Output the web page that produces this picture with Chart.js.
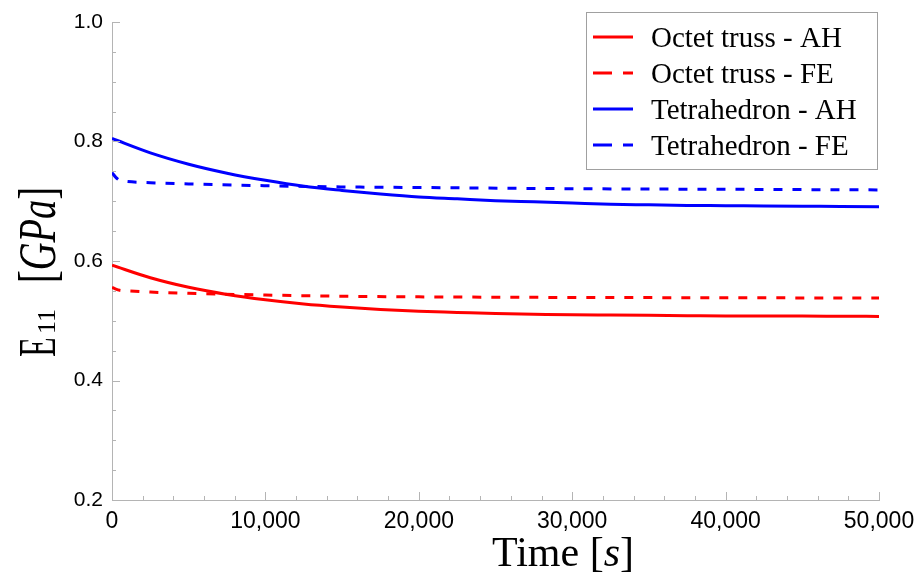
<!DOCTYPE html>
<html>
<head>
<meta charset="utf-8">
<script src="https://cdn.jsdelivr.net/npm/chart.js@4.4.0/dist/chart.umd.min.js"></script>
<style>
  body { margin: 0; background: #fff; }
  #wrap { width: 920px; height: 576px; }
</style>
</head>
<body>
<div id="wrap"><canvas id="chart-e11"></canvas></div>
<script>
/* Data */

var seriesLabels = [ "Octet truss - AH", "Octet truss - FE", "Tetrahedron - AH", "Tetrahedron - FE" ];

var timeAH = [ 0, 2500, 5000, 7500, 10000, 12500, 15000, 17500, 20000, 22500, 25000,
	27500, 30000, 32500, 35000, 37500, 40000, 42500, 45000, 47500, 50000 ];
var octetAH = [ 0.593, 0.572, 0.556, 0.544, 0.535, 0.528, 0.523, 0.519, 0.516, 0.514, 0.512,
	0.511, 0.510, 0.5095, 0.509, 0.5085, 0.508, 0.508, 0.5078, 0.5075, 0.5073 ];
var tetraAH = [ 0.805, 0.781, 0.762, 0.747, 0.735, 0.725, 0.718, 0.712, 0.707, 0.704, 0.701,
	0.699, 0.697, 0.695, 0.694, 0.693, 0.6926, 0.692, 0.6916, 0.6913, 0.691 ];

var timeFE = [ 0, 250, 500, 1000, 2500, 5000, 10000, 15000, 20000, 30000, 40000, 50000 ];
var octetFE = [ 0.556, 0.553, 0.551, 0.550, 0.548, 0.546, 0.543, 0.541, 0.540, 0.539, 0.5385, 0.538 ];
var tetraFE = [ 0.748, 0.740, 0.735, 0.733, 0.731, 0.729, 0.726, 0.724, 0.723, 0.721, 0.720, 0.719 ];

var xTickLabels = [ "0", "10,000", "20,000", "30,000", "40,000", "50,000" ];
var yTickLabels = [ "0.2", "0.4", "0.6", "0.8", "1.0" ];

function pts( xs, ys ) {
	return xs.map(function( x, i ){ return { x: x, y: ys[i] }; });
}

/* Plugins */

var innerTicks = {
	id: 'innerTicks',
	afterDraw: function( chart ) {
		var ctx = chart.ctx, a = chart.chartArea;
		var xs = chart.scales.x, ys = chart.scales.y;
		ctx.save();
		ctx.strokeStyle = '#b4b4b4';
		ctx.lineWidth = 1;
		ctx.beginPath();
		xs.ticks.forEach(function( t, i ){
			var px = Math.round(xs.getPixelForTick(i)) + 0.5;
			var len = t.value % 10000 === 0 ? 8 : 4;
			ctx.moveTo(px, a.bottom); ctx.lineTo(px, a.bottom - len);
		});
		ys.ticks.forEach(function( t, i ){
			var py = Math.round(ys.getPixelForTick(i)) + 0.5;
			var k = t.value * 5;
			var len = Math.abs(k - Math.round(k)) < 1e-6 ? 8 : 4;
			ctx.moveTo(a.left, py); ctx.lineTo(a.left + len, py);
		});
		ctx.stroke();
		ctx.restore();
	}
};

var axisTitles = {
	id: 'axisTitles',
	afterDraw: function( chart ) {
		var ctx = chart.ctx;
		var serif = '"Liberation Serif", "DejaVu Serif", serif';
		// x title: Time [s]
		ctx.save();
		ctx.fillStyle = '#000';
		ctx.textBaseline = 'alphabetic';
		var parts = [ [ 'Time ', '42px ' + serif ], [ '[', '42px ' + serif ], [ 's', 'italic 42px ' + serif ], [ ']', '42px ' + serif ] ];
		var w = 0;
		parts.forEach(function( p ){ ctx.font = p[1]; w += ctx.measureText(p[0]).width; });
		var x = 563 - w / 2;
		parts.forEach(function( p ){ ctx.font = p[1]; ctx.fillText(p[0], x, 566); x += ctx.measureText(p[0]).width; });
		ctx.restore();

		// y title: E11 [GPa], tall and narrow like a math font
		ctx.save();
		ctx.translate(55, 357);
		ctx.rotate(-Math.PI / 2);
		ctx.fillStyle = '#000';
		ctx.textBaseline = 'alphabetic';
		// E
		ctx.save();
		ctx.scale(0.62, 1);
		ctx.font = '52px ' + serif;
		ctx.fillText('E', 0, 0);
		ctx.restore();
		// subscript 11
		ctx.font = '26px ' + serif;
		ctx.fillText('11', 23, 0);
		// [GPa]
		var g = [ [ '[', '52px ' + serif ], [ 'GPa', 'italic 52px ' + serif ], [ ']', '52px ' + serif ] ];
		var gw = 0;
		g.forEach(function( p ){ ctx.font = p[1]; gw += ctx.measureText(p[0]).width; });
		var sc = 96 / gw;
		ctx.save();
		ctx.translate(74, 0);
		ctx.scale(sc, 1);
		var gx = 0;
		g.forEach(function( p ){ ctx.font = p[1]; ctx.fillText(p[0], gx, 0); gx += ctx.measureText(p[0]).width; });
		ctx.restore();
		ctx.restore();
	}
};

var boxLegend = {
	id: 'boxLegend',
	afterDraw: function( chart ) {
		var ctx = chart.ctx;
		var left = 586, top = 12, right = 877, bottom = 169;
		ctx.save();
		ctx.fillStyle = '#fff';
		ctx.fillRect(left, top, right - left, bottom - top);
		ctx.strokeStyle = '#a0a0a0';
		ctx.lineWidth = 1;
		ctx.strokeRect(left + 0.5, top + 0.5, right - left, bottom - top);
		ctx.font = '29px "Liberation Serif", "DejaVu Serif", serif';
		ctx.textBaseline = 'alphabetic';
		chart.data.datasets.forEach(function( ds, i ){
			var cy = top + 25 + i * 36;
			ctx.strokeStyle = ds.borderColor;
			ctx.lineWidth = 3;
			ctx.setLineDash(ds.borderDash ? [ 19, 11 ] : []);
			ctx.beginPath();
			ctx.moveTo(593, cy); ctx.lineTo(633, cy);
			ctx.stroke();
			ctx.setLineDash([]);
			ctx.fillStyle = '#000';
			ctx.fillText(ds.label, 651, cy + 10);
		});
		ctx.restore();
	}
};

/* Chart */

var ctxe11 = document.getElementById("chart-e11").getContext('2d');
var myChart = new Chart(ctxe11, {
	type: 'line',
	data: {
		datasets: [
			{ label: seriesLabels[0], data: pts(timeAH, octetAH), borderColor: 'rgb(255, 0, 0)', borderWidth: 3 },
			{ label: seriesLabels[1], data: pts(timeFE, octetFE), borderColor: 'rgb(255, 0, 0)', borderWidth: 3, borderDash: [ 9, 10 ] },
			{ label: seriesLabels[2], data: pts(timeAH, tetraAH), borderColor: 'rgb(0, 0, 255)', borderWidth: 3 },
			{ label: seriesLabels[3], data: pts(timeFE, tetraFE), borderColor: 'rgb(0, 0, 255)', borderWidth: 3, borderDash: [ 9, 10 ] }
		]
	},
	options: {
		responsive: true,
		maintainAspectRatio: false,
		animation: false,
		layout: { padding: { top: 22, right: 41, left: 0, bottom: 0 } },
		elements: {
			point: { radius: 0 },
			line: { cubicInterpolationMode: 'monotone', fill: false }
		},
		plugins: {
			legend: { display: false },
			tooltip: { enabled: false }
		},
		scales: {
			x: {
				type: 'linear',
				min: 0, max: 50000,
				afterFit: function( s ){ s.height = 76; },
				grid: { display: false },
				border: { display: true, color: '#b4b4b4', width: 1 },
				ticks: {
					stepSize: 2000,
					autoSkip: false,
					maxRotation: 0,
					padding: 0,
					color: '#000',
					font: { family: '"Liberation Sans", Arial, sans-serif', size: 23 },
					callback: function( v ){
						return v % 10000 === 0 ? xTickLabels[v / 10000] : '';
					}
				}
			},
			y: {
				min: 0.2, max: 1.0,
				afterFit: function( s ){ s.width = 112; },
				grid: { display: false },
				border: { display: true, color: '#b4b4b4', width: 1 },
				ticks: {
					stepSize: 0.05,
					autoSkip: false,
					padding: 1,
					color: '#000',
					font: { family: '"Liberation Sans", Arial, sans-serif', size: 21 },
					callback: function( v ){
						var k = Math.round(v * 5);
						return Math.abs(v * 5 - k) < 1e-6 ? yTickLabels[k - 1] : '';
					}
				}
			}
		}
	},
	plugins: [ innerTicks, axisTitles, boxLegend ]
});
</script>
</body>
</html>
